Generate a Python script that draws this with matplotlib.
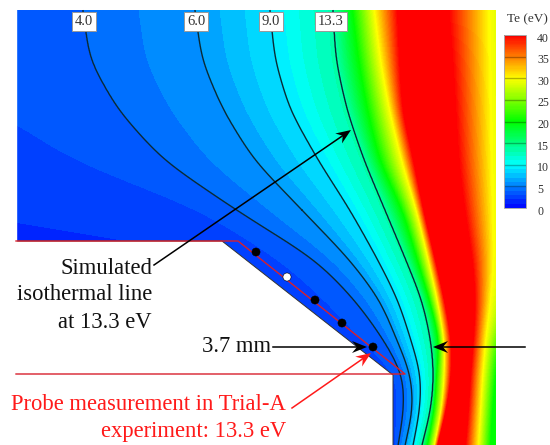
import numpy as np
import matplotlib
matplotlib.use('Agg')
import matplotlib.pyplot as plt
from matplotlib.colors import LinearSegmentedColormap
from matplotlib.patches import Polygon
from matplotlib.transforms import ScaledTranslation

plt.rcParams['font.family'] = ['Liberation Serif', 'DejaVu Serif']

# Te profile: x position (px) of each Te value, per row y (px)
row_y = [10, 60, 110, 160, 210, 260, 300, 340, 375, 410, 445]
te_values = [2, 3, 4, 6, 9, 13.3, 20, 30, 40, 40, 30, 20]
x_te2 = [-600, -500, -400, -300, -60, 245, 297, 348, 393, 393, 393]
x_te3 = [-300, -200, -5, 73, 200, 280, 325, 362, 397, 397, 395]
x_te4 = [83, 90, 118, 163, 236, 316, 355, 384, 403, 404, 398]
x_te6 = [195, 202, 223, 254, 302, 350, 380, 397, 411, 413, 405]
x_te9 = [270, 275, 290, 318, 350, 378, 398, 411, 421, 420, 413]
x_te13 = [333, 336, 347, 364, 385, 406, 422, 431, 434, 431, 422]
x_te20 = [353, 359, 368, 380, 403, 418, 430, 440, 437, 435, 428]
x_te30 = [375, 381, 390, 402, 417, 429, 438, 445, 445, 442, 435]
x_te40a = [398, 400, 403, 414, 424, 436, 445, 452, 452, 447, 438]
x_te40b = [448, 452, 455, 458, 464, 472, 475, 473, 470, 468, 465]
x_te30b = [488, 489, 490, 491, 492, 493, 490, 485, 482, 480, 478]
x_te20b = [560, 560, 560, 560, 560, 550, 525, 500, 495, 492, 490]

iso_levels = [4.0, 6.0, 9.0, 13.3]
iso_names = ['4.0', '6.0', '9.0', '13.3']
iso_label_x = [84, 196, 271, 331]
cbar_ticks = [0, 5, 10, 15, 20, 25, 30, 35, 40]

probe_x = [256, 287, 315, 342, 373]
probe_y = [252, 277, 300, 323, 347]
probe_colors = ['black', 'white', 'black', 'black', 'black']

wall_x = [16, 222, 393, 393, 16]
wall_y = [241, 241, 375, 446, 446]
red_x = [16, 238, 405, 16]
red_y = [241, 241, 374, 374]

W, H = 550, 445
fig = plt.figure(figsize=(W / 100, H / 100), dpi=100)
ax = fig.add_axes([0, 0, 1, 1])
ax.set_xlim(0, W)
ax.set_ylim(H, 0)
ax.axis('off')

# build the field row by row from the table
all_stops = [x_te2, x_te3, x_te4, x_te6, x_te9, x_te13, x_te20, x_te30, x_te40a, x_te40b, x_te30b, x_te20b]
y_grid = np.arange(10, 446, 1.0)
x_grid = np.arange(16, 496.5, 0.5)
kernel = np.ones(31) / 31
dense = []
for stops in all_stops:
    line = np.interp(y_grid, row_y, stops)
    # straight continuation past both ends, the box filter would bend the curve there
    n = 40
    head = line[0] + (line[0] - line[n]) * np.arange(n, 0, -1) / n
    tail = line[-1] + (line[-1] - line[-1 - n]) * np.arange(1, n + 1) / n
    padded = np.r_[head, line, tail]
    padded = np.convolve(padded, kernel, mode='same')
    padded = np.convolve(padded, kernel, mode='same')
    dense.append(padded[n:-n])
dense = np.array(dense)
te = np.array([np.interp(x_grid, dense[:, i], te_values) for i in range(len(y_grid))])
te = np.clip(te, 0, 39.99)

cmap = LinearSegmentedColormap.from_list('te', [
    (0, 0, 1), (0, 0.5, 1), (0, 1, 1), (0, 1, 0.5), (0, 1, 0),
    (0.5, 1, 0), (1, 1, 0), (1, 0.5, 0), (1, 0, 0)], N=256)

# 1 eV bands show in the blue part, higher up the shading is nearly continuous
band_levels = np.r_[np.arange(0, 14, 1), np.arange(14, 40.1, 0.25)]
cf = ax.contourf(x_grid, y_grid, te, levels=band_levels, cmap=cmap, vmin=0, vmax=40, zorder=1)
ax.contour(x_grid, y_grid, te, levels=iso_levels, colors='#0a2a35', linewidths=1.0, zorder=2)

# white area of the divertor wall
ax.add_patch(Polygon(np.c_[wall_x, wall_y], closed=True, facecolor='white', edgecolor='#333333', linewidth=0.7, zorder=3))
ax.fill_between([0, 16], 0, H, color='white', zorder=3)
ax.plot(red_x, red_y, color='#d8202c', lw=1.0, zorder=4)

ax.scatter(probe_x, probe_y, s=34, c=probe_colors, edgecolors='black', linewidths=0.4, zorder=5)

for name, x in zip(iso_names, iso_label_x):
    ax.text(x, 21.5, name, fontsize=10.5, color='#333333', ha='center', va='center', zorder=6,
            bbox=dict(boxstyle='square,pad=0.22', facecolor='white', edgecolor='#999999', linewidth=0.7))


def arrow(start, tip, color='black'):
    start = np.array(start, dtype=float)
    tip = np.array(tip, dtype=float)
    d = (tip - start) / np.hypot(*(tip - start))
    n = np.array([-d[1], d[0]])
    head = [tip, tip - 15 * d + 6 * n, tip - 10 * d, tip - 15 * d - 6 * n]
    ax.plot([start[0], (tip - 10 * d)[0]], [start[1], (tip - 10 * d)[1]], color=color, lw=1.1, zorder=7)
    ax.add_patch(Polygon(head, closed=True, facecolor=color, edgecolor='none', zorder=7))


arrow((154, 265), (351, 130))
arrow((273, 347), (367, 347))
arrow((525, 347), (433, 347))
arrow((292, 408), (371, 353), color='#ff1a1a')

txt = dict(fontsize=16.3, ha='right', va='center', zorder=8)
ax.text(152, 268, 'Simulated', color='#111111', **txt)
ax.text(152, 295, 'isothermal line', color='#111111', **txt)
ax.text(152, 323, 'at 13.3 eV', color='#111111', **txt)
ax.text(271, 347, '3.7 mm', color='#111111', **txt)
ax.text(286, 405, 'Probe measurement in Trial-A', color='#ff1a1a', **txt)
ax.text(286, 432, 'experiment: 13.3 eV', color='#ff1a1a', **txt)

# colour bar
cax = fig.add_axes([504 / W, 1 - 208 / H, 22 / W, 173 / H])
cbar = fig.colorbar(cf, cax=cax, ticks=cbar_ticks, spacing='proportional')
cbar.outline.set_edgecolor('#aaaaaa')
cbar.outline.set_linewidth(0.7)
cax.tick_params(length=0, pad=8, labelsize=8.6, labelcolor='#333333')
for lab in cax.get_yticklabels():
    lab.set_transform(lab.get_transform() + ScaledTranslation(0, -2 / 100, fig.dpi_scale_trans))
for v in cbar_ticks[1:]:
    c = np.array(cmap(v / 40)[:3]) * 0.7
    cax.plot([cax.get_xlim()[0], cax.get_xlim()[1]], [v, v], color=c, lw=1.0)
fig.text(527 / W, 1 - 19 / H, 'Te (eV)', fontsize=9.5, color='#333333', ha='center', va='center')

fig.savefig('out.png', dpi=100)
